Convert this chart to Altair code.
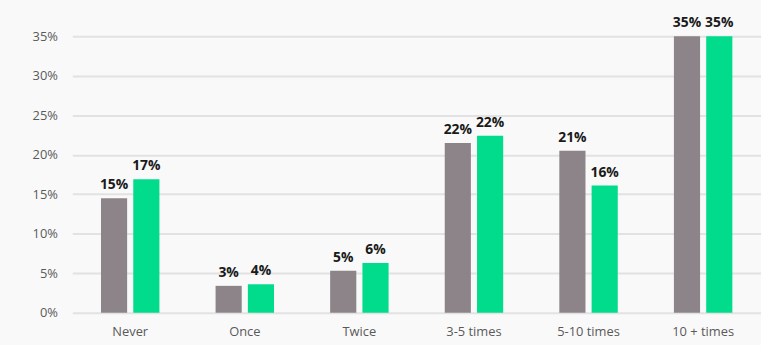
import altair as alt
import pandas as pd

categories = ["Never", "Once", "Twice", "3-5 times", "5-10 times", "10 + times"]
series_a = [14.5, 3.4, 5.3, 21.5, 20.5, 35.0]
series_b = [16.9, 3.6, 6.3, 22.4, 16.1, 35.0]
labels_a = ["15%", "3%", "5%", "22%", "21%", "35%"]
labels_b = ["17%", "4%", "6%", "22%", "16%", "35%"]
series_names = ["A", "B"]
colors = ["#8c8489", "#00dc8c"]

rows = []
for i, c in enumerate(categories):
    rows.append({"cat": c, "series": "A", "value": series_a[i], "label": labels_a[i]})
    rows.append({"cat": c, "series": "B", "value": series_b[i], "label": labels_b[i]})
df = pd.DataFrame(rows)

x = alt.X("cat:N", sort=categories, title=None,
          scale=alt.Scale(paddingInner=0.49, paddingOuter=0.25),
          axis=alt.Axis(labelAngle=0, domain=False, ticks=False, labelPadding=13,
                        labelFont="Open Sans", labelFontSize=13, labelColor="#595959"))
xo = alt.XOffset("series:N", sort=series_names,
                 scale=alt.Scale(paddingInner=0.19, paddingOuter=0))
y = alt.Y("value:Q", title=None,
          scale=alt.Scale(domain=[0, 35], nice=False),
          axis=alt.Axis(values=[0, 5, 10, 15, 20, 25, 30, 35], format=".0f",
                        labelExpr="datum.value + '%'",
                        domain=False, ticks=False, labelPadding=15,
                        labelFont="Open Sans", labelFontSize=13, labelColor="#595959",
                        gridColor="#e2e2e2", gridWidth=2))

bars = alt.Chart(df).mark_bar().encode(
    x=x, xOffset=xo, y=y,
    color=alt.Color("series:N", sort=series_names,
                    scale=alt.Scale(domain=series_names, range=colors), legend=None),
)
text = alt.Chart(df).mark_text(dy=-13, font="Open Sans", fontWeight="bold",
                               fontSize=14, color="#1a1a1a").encode(
    x=x, xOffset=xo, y=y, text="label:N"
)

chart = (bars + text).properties(
    width=695, height=279,
    background="#f9f9f9",
    padding={"left": 73, "top": 35, "right": 0, "bottom": 31},
    autosize="none",
).configure_view(stroke=None)

chart.save("out.html", embed_options={"renderer": "svg", "actions": False})
